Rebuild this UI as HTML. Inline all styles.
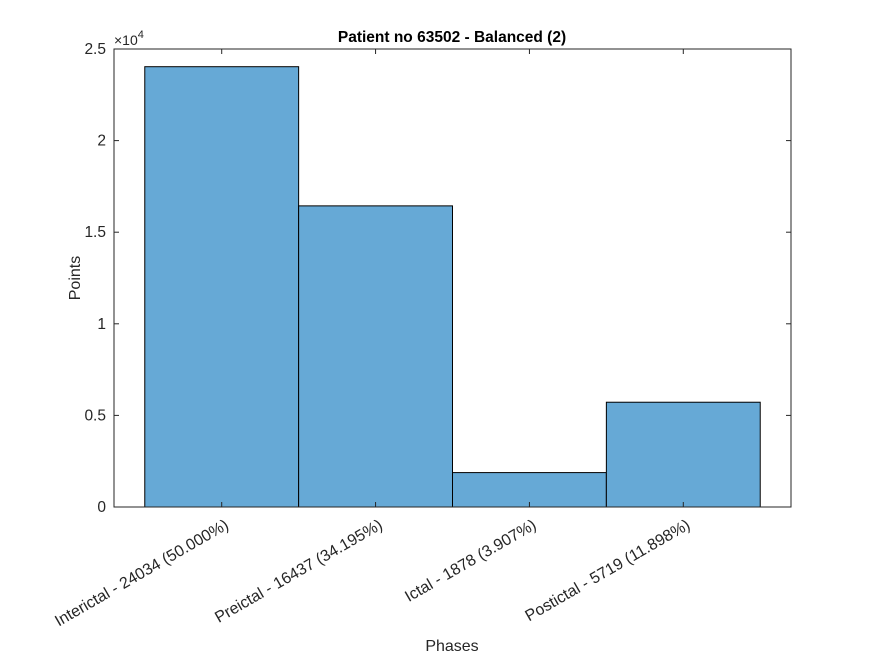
<!DOCTYPE html>
<html><head><meta charset="utf-8"><style>
html,body{margin:0;padding:0;background:#fff;}
svg{display:block;font-family:"Liberation Sans",Arial,sans-serif;}
</style></head><body>
<svg id="chart" width="875" height="656" viewBox="0 0 875 656">
<rect x="0" y="0" width="875" height="656" fill="#fff"/>
<rect x="114" y="49" width="677" height="458" fill="#fff" stroke="none"/>
<g id="bars"></g>
<g id="axes"></g>
<text x="452" y="42" text-anchor="middle" font-size="15.5" font-weight="bold" fill="#000">Patient no 63502 - Balanced (2)</text>
<text x="452" y="651" text-anchor="middle" font-size="16" fill="#262626">Phases</text>
<text transform="translate(80,278) rotate(-90)" text-anchor="middle" font-size="16" fill="#262626">Points</text>
<text x="114" y="45" font-size="14" fill="#262626">×10<tspan dy="-7" font-size="11">4</tspan></text>
</svg>
<script>
const categories = ["Interictal - 24034 (50.000%)","Preictal - 16437 (34.195%)","Ictal - 1878 (3.907%)","Postictal - 5719 (11.898%)"];
const values = [24034, 16437, 1878, 5719];
const yTicks = [0, 5000, 10000, 15000, 20000, 25000];
const yTickLabels = ["0","0.5","1","1.5","2","2.5"];

const NS = "http://www.w3.org/2000/svg";
const L=114,R=791,T=49,B=507;
const xMin=0.3,xMax=4.7,yMax=25000;
function xs(v){return L+(v-xMin)/(xMax-xMin)*(R-L);}
function ys(v){return B-v/yMax*(B-T);}
function mk(tag,attrs,parent){const e=document.createElementNS(NS,tag);for(const k in attrs)e.setAttribute(k,attrs[k]);parent.appendChild(e);return e;}
const bars=document.getElementById('bars');
values.forEach((v,i)=>{
  const x0=xs(i+1-0.5),x1=xs(i+1+0.5);
  const r=mk('rect',{x:x0,y:ys(v),width:x1-x0,height:ys(0)-ys(v),fill:'#66a9d6',stroke:'#000','stroke-width':1},bars);
  
  
});
const ax=document.getElementById('axes');
const box=mk('rect',{x:L,y:T,width:R-L,height:B-T,fill:'none',stroke:'#262626','stroke-width':1},ax);


yTicks.forEach((t,i)=>{
  const y=ys(t);
  mk('line',{x1:L,x2:L+5,y1:y,y2:y,stroke:'#262626'},ax);
  mk('line',{x1:R,x2:R-5,y1:y,y2:y,stroke:'#262626'},ax);
  const tx=mk('text',{x:L-8,y:y+5,'text-anchor':'end','font-size':15.5,fill:'#262626'},ax);
  tx.textContent=yTickLabels[i];
  
  
});
categories.forEach((c,i)=>{
  const x=xs(i+1);
  mk('line',{x1:x,x2:x,y1:B,y2:B-5,stroke:'#262626'},ax);
  mk('line',{x1:x,x2:x,y1:T,y2:T+5,stroke:'#262626'},ax);
  const tx=mk('text',{transform:`translate(${x+8},${B+21}) rotate(-30)`,'text-anchor':'end','font-size':16,fill:'#262626'},ax);
  tx.textContent=c;
  
  
});
</script>
</body></html>
